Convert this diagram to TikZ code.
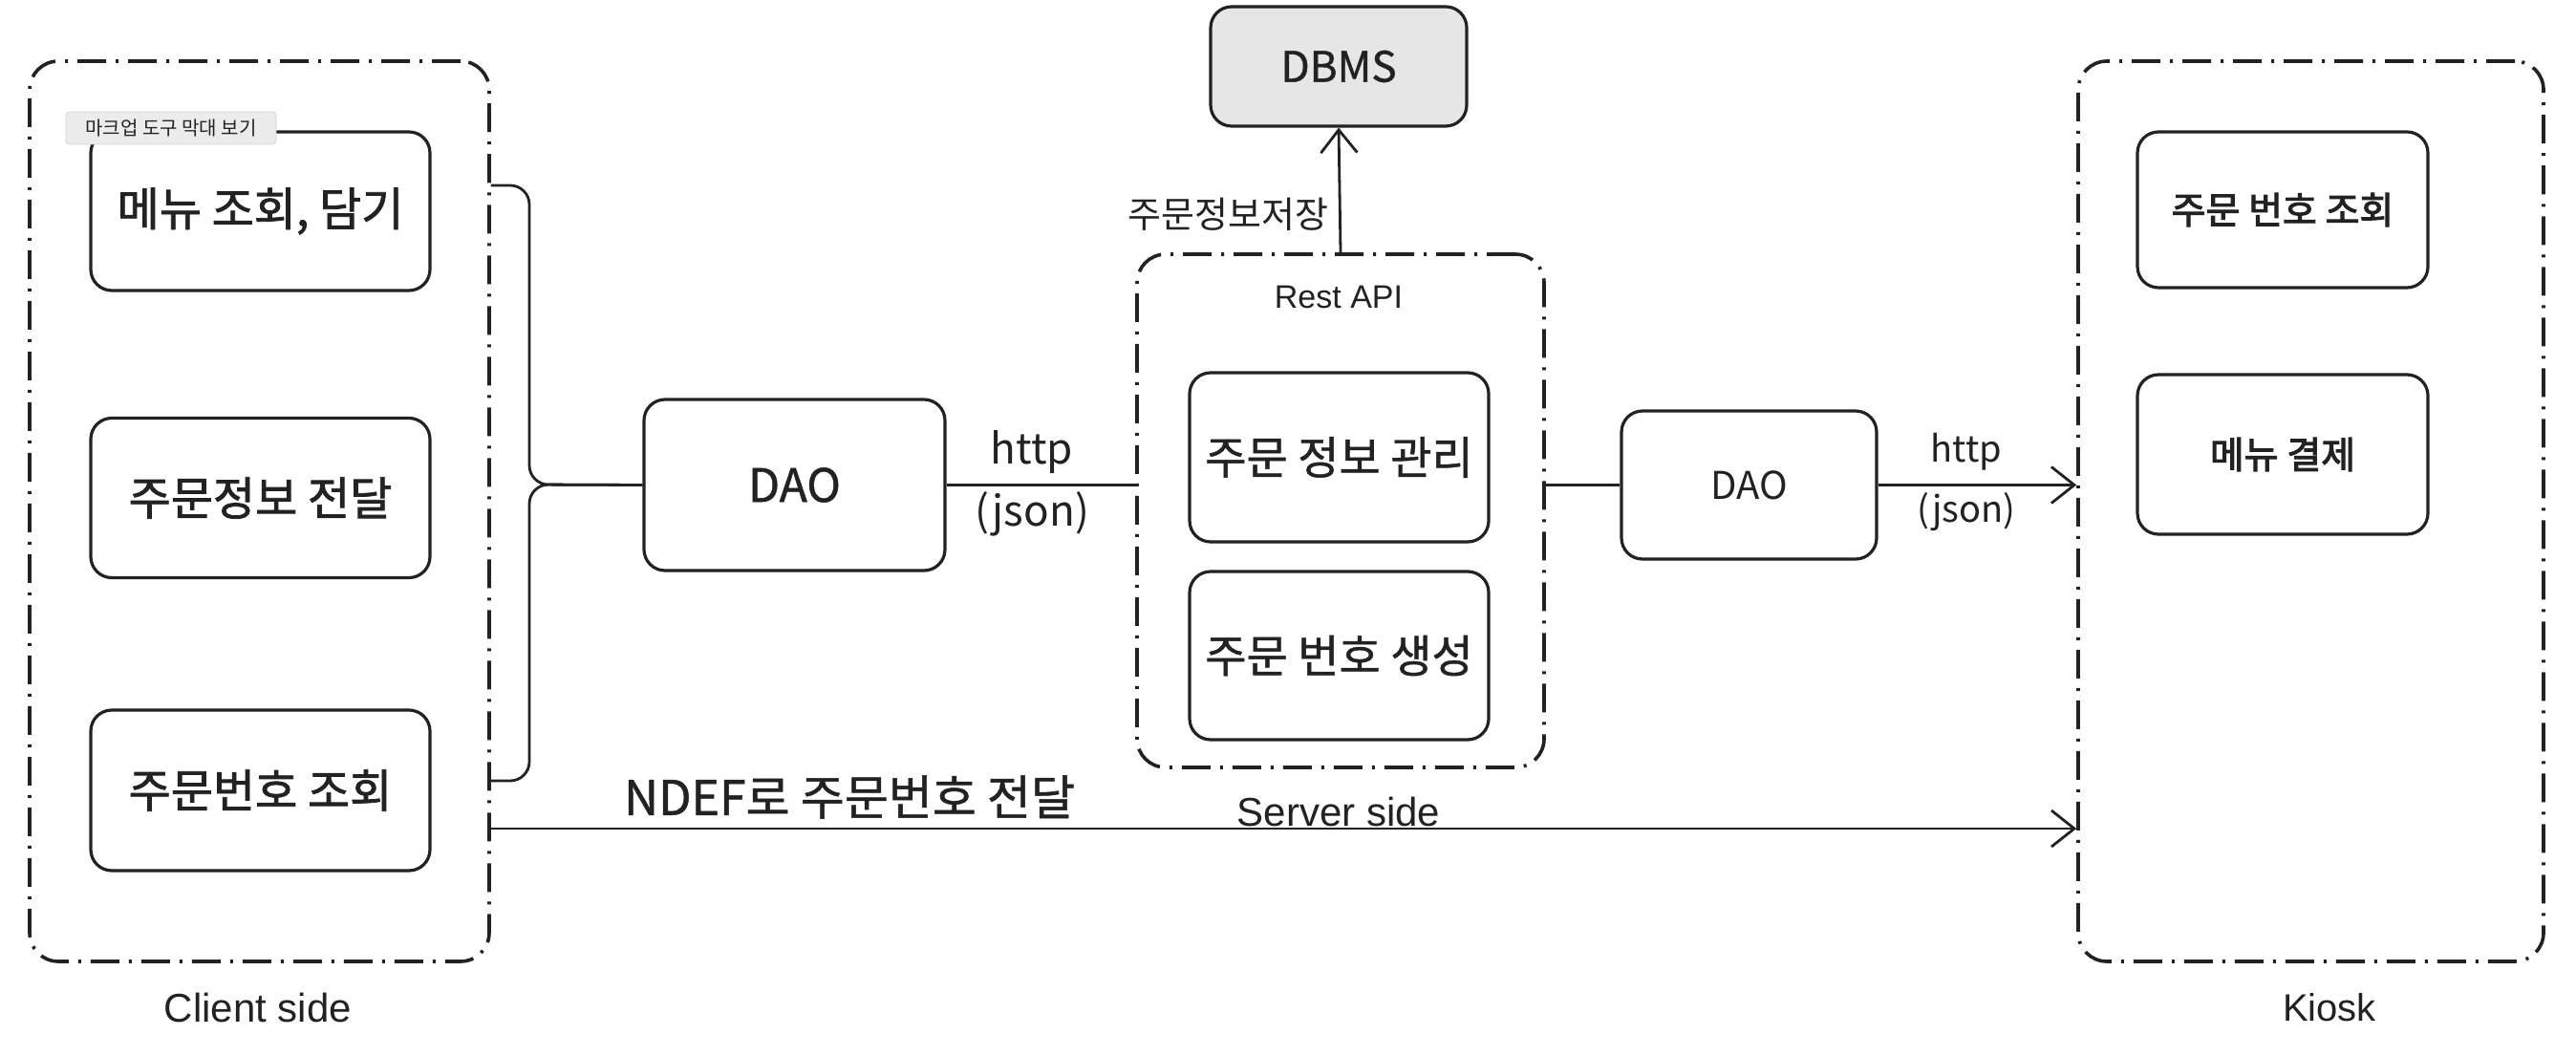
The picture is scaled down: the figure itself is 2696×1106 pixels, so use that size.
\documentclass[tikz,border=0pt]{standalone}
\usepackage{fontspec}
\setmainfont{Noto Sans CJK KR}
\newfontfamily\krm{Noto Sans CJK KR}[FakeBold=1]
\newfontfamily\krb{Noto Sans CJK KR}[FakeBold=1.6]
\newfontfamily\krbb{Noto Sans CJK KR}[FakeBold=2.6]
\newfontfamily\latf{Liberation Sans}
\usetikzlibrary{arrows.meta}
\definecolor{ink}{HTML}{222222}
\definecolor{dbfill}{HTML}{E6E6E6}
\newcommand\fsz[1]{\fontsize{#1}{#1}\selectfont}
\begin{document}
\begin{tikzpicture}[x=0.5pt,y=-0.5pt,
  box/.style={draw=ink, line width=1.6pt, rounded corners=11pt, fill=white, inner sep=0pt, align=center, text=ink},
  group/.style={draw=ink, line width=1.8pt, rounded corners=15pt, inner sep=0pt, dash pattern=on 15pt off 5pt on 1.5pt off 5pt},
  conn/.style={draw=ink, line width=1.4pt},
  arr/.style={conn, -{Straight Barb[length=12pt,width=19pt,line width=1.4pt]}},
  lbl/.style={text=ink, inner sep=0pt}]
\useasboundingbox[fill=white] (0,0) rectangle (2696,1106);
% groups
\node[group, minimum width=240.5pt, minimum height=471pt] (client) at (271.5,535) {};
\node[group, minimum width=213pt, minimum height=268.5pt] (server) at (1403,534.5) {};
\node[group, minimum width=243.5pt, minimum height=471pt] (kiosk) at (2418.5,535) {};
\node[lbl] (clientlbl) at (270,1054) {\latf\fsz{21pt}Client side};
\node[lbl] (serverlbl) at (1401,849) {\latf\fsz{21pt}Server side};
\node[lbl] (kiosklbl) at (2438,1054) {\latf\fsz{20pt}Kiosk};
\node[lbl] (restlbl) at (1401,311) {\latf\fsz{17pt}Rest API};
% client boxes
\node[box, minimum width=177.5pt, minimum height=83pt] (m1) at (272.5,221) {\krb\fsz{24pt}메뉴 조회, 담기};
\node[box, minimum width=177.5pt, minimum height=83.5pt] (m2) at (272.5,521) {\krb\fsz{24pt}주문정보 전달};
\node[box, minimum width=177.5pt, minimum height=84pt] (m3) at (272.5,827) {\krb\fsz{24pt}주문번호 조회};
% tooltip
\node[draw=gray!35, fill=gray!15, rounded corners=2pt, minimum width=110pt, minimum height=17pt, inner sep=0pt, text=ink] (tip) at (179,134) {\fsz{10pt}마크업 도구 막대 보기};
% DAO left
\node[box, minimum width=157.5pt, minimum height=89.5pt] (dao1) at (831.5,507.5) {\krm\fsz{24pt}DAO};
% server boxes
\node[box, minimum width=156.5pt, minimum height=88.5pt] (s1) at (1401.5,478.5) {\krm\fsz{23.5pt}주문 정보 관리};
\node[box, minimum width=156.5pt, minimum height=88pt] (s2) at (1401.5,686) {\krm\fsz{23.5pt}주문 번호 생성};
\node[box, fill=dbfill, minimum width=134pt, minimum height=62.5pt] (dbms) at (1401,69.5) {\krm\fsz{22pt}DBMS};
% DAO right
\node[box, minimum width=133.5pt, minimum height=77.5pt] (dao2) at (1830.5,507.5) {\fsz{20pt}DAO};
% kiosk boxes
\node[box, minimum width=152pt, minimum height=81.5pt] (k1) at (2389,219.5) {\krbb\fsz{19.5pt}주문 번호 조회};
\node[box, minimum width=152pt, minimum height=83.5pt] (k2) at (2389,475.5) {\krbb\fsz{19.5pt}메뉴 결제};
% brace from client
\coordinate (bt) at (554,194);
\coordinate (bm) at (554,507);
\coordinate (bb) at (554,817);
\draw[conn, rounded corners=10pt] (client.east |- bt) -- (bt) -- (bm) -- (dao1.west);
\draw[conn, rounded corners=10pt] (client.east |- bb) -- (bb) -- (bm) -- (dao1.west);
% http left
\draw[conn] (dao1.east) -- (server.west |- dao1.east);
\node[lbl] (http1) at (1080,473) {\fsz{22pt}http};
\node[lbl] (json1) at (1080,538) {\fsz{22pt}(json)};
% server to dao2 to kiosk
\draw[conn] (server.east |- dao2.west) -- (dao2.west);
\draw[arr] (dao2.east) -- (kiosk.west |- dao2.east);
\node[lbl] (http2) at (2058,473) {\fsz{19pt}http};
\node[lbl] (json2) at (2058,536) {\fsz{19pt}(json)};
% DBMS
\draw[arr] (server.north) -- (dbms.south);
\node[lbl, anchor=east] (savelbl) at (1391,224) {\fsz{19pt}주문정보저장};
% NDEF
\coordinate (ny) at (0,867);
\draw[arr] (client.east |- ny) -- (kiosk.west |- ny);
\node[lbl] (ndef) at (889,834) {\krm\fsz{25pt}NDEF로 주문번호 전달};
\end{tikzpicture}
\end{document}
